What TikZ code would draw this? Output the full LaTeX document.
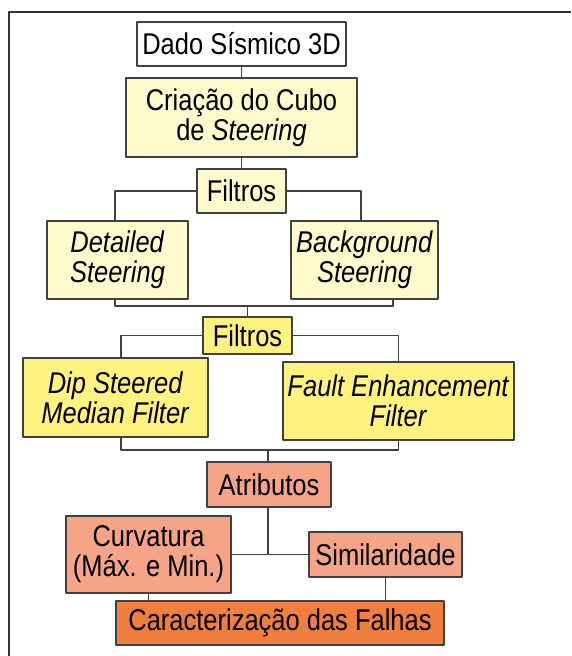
\documentclass[tikz,border=0pt]{standalone}
\usepackage{fontspec}
\setmainfont[FakeStretch=0.85]{Liberation Sans}
\definecolor{pale}{HTML}{FFFBCC}
\definecolor{yell}{HTML}{FFF27E}
\definecolor{salmon}{HTML}{F5A487}
\definecolor{orng}{HTML}{F07E3E}
\begin{document}
\begin{tikzpicture}[x=1pt,y=-1pt,line join=round,
	box/.style={draw=black!75,line width=1.6pt,inner sep=0pt,align=center,
		font=\fontsize{30}{30}\selectfont},
	con/.style={draw=black!75,line width=1.6pt}]
	\useasboundingbox (0,0) rectangle (571,656);
	\draw[line width=2pt,black!80] (571,12)--(9,12)--(9,656);
	\node[box,fill=white,minimum width=209,minimum height=44] (dado) at (241.5,44) {Dado Sísmico 3D};
	\node[box,fill=pale,minimum width=231,minimum height=79] (cubo) at (241.5,117.5) {Criação do Cubo\\de \textit{Steering}};
	\node[box,fill=pale,minimum width=89,minimum height=44] (filtA) at (241.5,191) {Filtros};
	\node[box,fill=pale,minimum width=141,minimum height=78] (det) at (117.5,260) {\textit{Detailed}\\\textit{Steering}};
	\node[box,fill=pale,minimum width=147,minimum height=78] (bgr) at (364.5,260) {\textit{Background}\\\textit{Steering}};
	\node[box,fill=yell,minimum width=89,minimum height=37] (filtB) at (247.5,335.5) {Filtros};
	\node[box,fill=yell,minimum width=185,minimum height=79] (dip) at (115.5,397.5) {\textit{Dip Steered}\\\textit{Median Filter}};
	\node[box,fill=yell,minimum width=231,minimum height=78] (fault) at (398.5,401) {\textit{Fault Enhancement}\\\textit{Filter}};
	\node[box,fill=salmon,minimum width=124,minimum height=45] (atrib) at (269,484.5) {Atributos};
	\node[box,fill=salmon,minimum width=165,minimum height=77] (curv) at (148.5,554.5) {Curvatura\\(Máx. e Min.)};
	\node[box,fill=salmon,minimum width=153,minimum height=45] (simil) at (385.5,554.5) {Similaridade};
	\node[box,fill=orng,minimum width=328,minimum height=44] (carac) at (280,623) {Caracterização das Falhas};
	\path
	(247.5,306) coordinate (j1)
	(268,450) coordinate (j2)
	(268,554.5) coordinate (j3)
	;
	\draw[con] (dado)--(cubo);
	\draw[con] (cubo)--(filtA);
	\draw[con] (filtA.west) -| ([xshift=-2.5pt]det.north);
	\draw[con] (filtA.east) -| ([xshift=-3.5pt]bgr.north);
	\draw[con] ([xshift=-2.5pt]det.south) |- (j1) -| ([xshift=28.5pt]bgr.south);
	\draw[con] (j1)--(filtB);
	\draw[con] (filtB.west) -| ([xshift=5.5pt]dip.north);
	\draw[con] (filtB.east) -| (fault.north);
	\draw[con] ([xshift=5.5pt]dip.south) |- (j2) -| (fault.south);
	\draw[con] (j2)--(j2 |- atrib.north) (j2 |- atrib.south)--(j3);
	\draw[con] (curv.east)--(simil.west);
	\draw[con] (curv.south)--(curv.south |- carac.north);
	\draw[con] (simil.south)--(simil.south |- carac.north);
\end{tikzpicture}
\end{document}
